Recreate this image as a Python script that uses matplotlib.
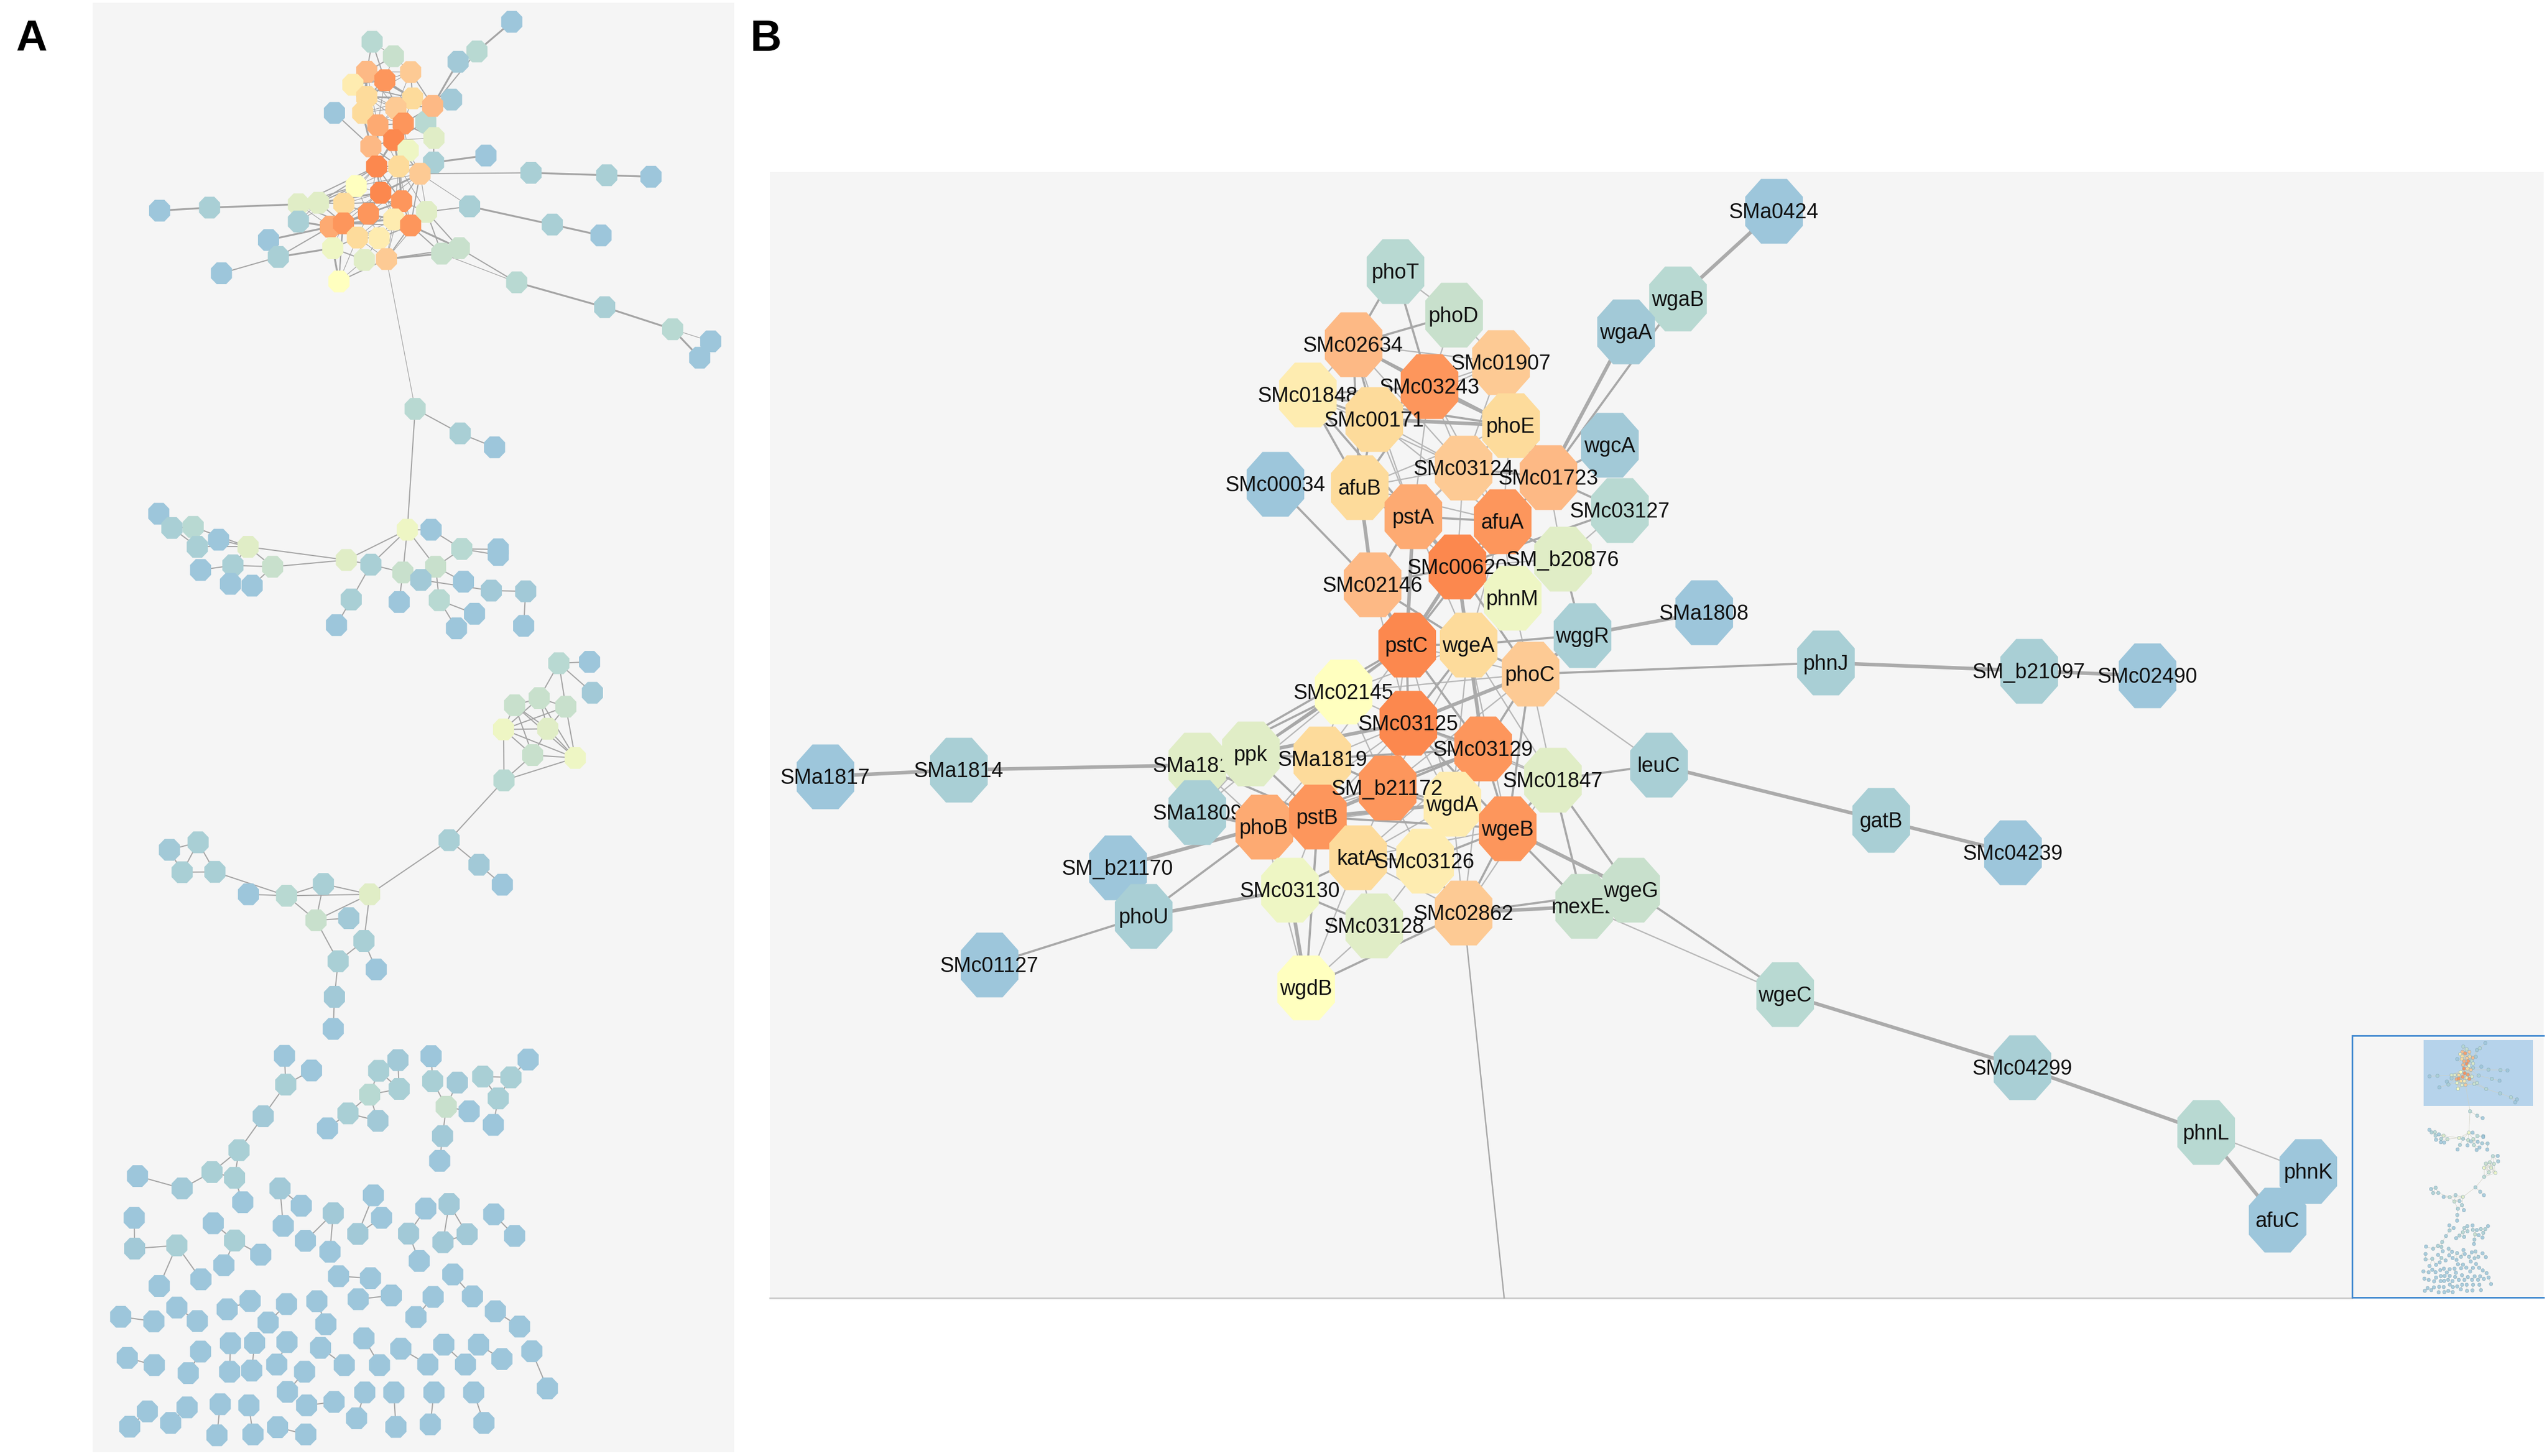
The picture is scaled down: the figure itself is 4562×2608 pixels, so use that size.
import numpy as np
import matplotlib
matplotlib.use("Agg")
import matplotlib.pyplot as plt
from matplotlib.collections import LineCollection
from matplotlib.path import Path
from matplotlib.patches import Rectangle

plt.rcParams['font.family'] = ['Liberation Sans', 'DejaVu Sans']

W, H = 4562, 2608
PREVIEW = W / 1568.0

level_colors = ['#fc884e', '#fd965c', '#fdaa72', '#fdb985', '#fdca94', '#fddb9b', '#feecb0', '#ffffbf',
                '#eef6c4', '#e0edc6', '#c8e0cc', '#b8d9d2', '#a9cfd5', '#a2c9d7', '#9dc6db']

# ---- core network: names, layout in panel B, layout in panel A, colour level
names = ['SMa0424','wgaB','wgaA','phoT','phoD','SMc01907','SMc02634','SMc01848','SMc03243','phoE','SMc00171',
         'wgcA','SMc03127','SMc03124','SMc01723','SMc00034','afuB','pstA','afuA','SMa1808','wggR','SMc02146',
         'SM_b20876','SMc00620','phnM','pstC','wgeA','phoC','phnJ','SM_b21097','SMc02490','SMc02145','SMc03125',
         'SMc03129','leuC','SMa1817','SMa1814','SMa1813','ppk','SMa1809','SMa1819','SMc01847','wgdA','phoB','pstB',
         'SM_b21172','gatB','wgeB','SMc04239','katA','SMc03126','SM_b21170','SMc03130','phoU','mexE2','wgeG',
         'SMc02862','SMc03128','SMc01127','wgdB','wgeC','SMc04299','phnL','phnK','afuC']
b_x = [1092,1033,1001,859,895,924,833,805,880,930,846,991,997,901,953,785,837,870,925,1049,974,845,962,897,931,866,
       904,942,1124,1249,1322,827,867,913,1021,508,590,737,770,737,814,956,894,778,811,854,1158,928,1239,836,877,
       688,794,704,975,1004,901,846,609,804,1099,1245,1358,1421,1402]
b_y = [130,184,204,167,194,223,212,243,238,262,258,274,314,288,294,298,300,318,321,377,391,360,344,349,368,397,397,
       415,408,413,416,426,445,461,471,478,474,471,464,500,467,480,495,509,503,485,505,510,525,528,530,534,548,564,
       558,548,562,570,594,608,612,657,697,721,751]
b_level = [14,11,13,11,10,4,3,6,1,5,5,13,11,4,3,14,5,2,1,14,12,3,9,0,8,0,5,4,12,12,14,7,0,1,12,14,12,9,9,12,5,9,6,2,
           1,1,12,1,14,5,6,14,8,12,10,10,4,9,14,7,11,12,11,14,14]
a_zx = [1018,933,887,677,729,771,664,630,708,776,664,871,808,735,825,585,654,691,753,955,827,674,828,730,765,688,742,
        794,1065,1250,1358,638,698,749,915,158,280,497,546,497,608,810,730,575,607,668,1117,771,1236,641,694,424,581,
        448,847,890,712,658,309,596,1030,1245,1411,1504,1477]
a_zy = [72,170,204,138,186,238,237,280,265,325,320,329,404,357,350,373,373,414,408,514,537,484,456,463,497,550,550,
        574,571,579,584,615,637,665,682,696,686,675,670,732,673,700,725,749,738,706,742,745,778,785,787,793,820,849,
        838,820,856,859,903,930,933,1015,1088,1128,1182]

edges_thin = """phoT-phoD phoD-SMc01907 phoD-SMc03243 SMc02634-SMc01848 SMc02634-SMc01907 SMc02634-SMc03124 SMc02634-pstA
SMc01848-SMc03124 SMc03243-SMc01907 SMc03243-SMc03124 SMc03243-pstA SMc03243-afuA SMc01907-SMc03124 SMc01907-SMc00171
SMc00171-SMc03124 SMc00171-pstA SMc00171-afuA phoE-SMc03124 phoE-afuB phoE-pstA phoE-afuA SMc03124-afuB SMc03124-pstA
SMc03124-afuA SMc03124-SMc00620 SMc01723-SM_b20876 afuB-afuA afuB-SMc00620 pstA-wgeA afuA-wgeA afuA-phnM
SM_b20876-SMc00620 SMc02146-SMc03125 phnM-phoC phoC-leuC pstC-SMc02145 pstC-SM_b21172 pstC-SMa1819 pstC-wgdA pstC-phoC
wgeA-SMc02145 wgeA-SM_b21172 wgeA-wgdA wgeA-SMc01847 wgeA-wgeB phoC-SMc02145 phoC-SMc01847 phoC-SM_b21172
SMc02145-SMc03125 SMc02145-SMa1819 SMc02145-SMa1809 SMc02145-SM_b21172 SMc03125-SMa1819 SMc03125-wgdA SMc03125-pstB
SMc03125-phoB SMc03125-SMc01847 SMc03129-wgdA SMc03129-SMc01847 SMc03129-katA SMc03129-SMc02862 ppk-SMa1813
SMa1813-phoB ppk-SMa1809 SMa1809-SMa1813 SMa1819-phoB SMa1819-katA SM_b21172-katA SM_b21172-phoB SM_b21172-SMc03126
pstB-SMc03130 pstB-SMc03126 phoB-katA phoB-wgdB phoB-wgdA wgdA-katA wgdA-SMc02862 wgeB-katA SMc01847-SMc02862
katA-SMc03128 katA-wgdB SMc03126-SMc03128 pstB-wgdB SMc03128-wgdB mexE2-wgeC katA-SMc02862 phnL-phnK
SMc03127-SM_b20876 wgdA-SMc03126""".split()
edges_mid = """phoT-SMc02634 phoT-SMc03243 phoD-SMc02634 SMc02634-SMc03243 SMc02634-SMc00171 SMc02634-phoE SMc02634-afuB
SMc01848-SMc03243 SMc01848-SMc00171 SMc01848-afuB SMc01848-phoE SMc01848-pstA SMc03243-SMc00171 SMc03243-afuB
SMc01907-phoE SMc01907-SMc01723 SMc00171-afuB phoE-SMc01723 SMc03124-SMc01723 SMc01723-afuA SMc01723-SMc03127
SMc01723-wgcA SMc01723-wgaB wgaA-wgaB SMc00034-SMc02146 afuB-pstA pstA-afuA pstA-SMc02146 afuA-SMc00620 afuA-pstC
afuA-SM_b20876 SMc03127-SMc00620 SM_b20876-wggR SMc00620-SMc02146 SMc00620-phnM SMc00620-phoC SMc02146-wgeA wggR-wgeA
pstC-wgeA pstC-SMc03125 pstC-SMc03129 pstC-ppk pstC-SMa1813 wgeA-SMc03125 wgeA-phoC phoC-SMc03129 phoC-wgeB phoC-phnJ
SMc02145-ppk SMc02145-SMa1813 SMc03125-SMc03129 SMc03125-SM_b21172 SMc03125-wgeB SMc03129-SM_b21172 SMc03129-wgeB
SMc03129-pstB SMc03129-phoB ppk-SMa1819 ppk-pstB SMa1813-pstB SMa1819-SM_b21172 SMa1819-pstB SMa1819-SMc03129
SM_b21172-wgdA SM_b21172-wgeB pstB-katA pstB-phoB pstB-wgeB phoB-SMc03130 wgdA-wgeB wgeB-SMc03126 wgeB-SMc02862
wgeB-mexE2 SMc01847-wgeG SMc01847-mexE2 SMc01847-wgeB katA-SMc03126 katA-SMc03130 SMc03126-SMc02862 SMc03130-SMc03128
SMa1819-wgdB SMc02862-wgdB SMc02862-wgeG wgeG-wgeC leuC-SMc01847 phoU-phoB phoU-SMc01127""".split()
edges_thick = """wgaB-SMa0424 wgaA-SMc01723 SMc03243-phoE SMc00171-phoE afuB-SMc02146 pstA-SMc00620 pstA-pstC SMc00620-pstC
SMc00620-wgeA SMc02146-pstC wggR-phoC wggR-SMa1808 wgeA-SMc03129 phoC-SMc03125 SMc03125-ppk SM_b21172-pstB pstB-wgdA
SMa1809-phoB SMc03130-wgdB wgeB-wgeG SMc02862-mexE2 phnJ-SM_b21097 SM_b21097-SMc02490 leuC-gatB gatB-SMc04239
SMa1817-SMa1814 SMa1814-SMa1813 SM_b21170-phoB phoU-SMc03130 wgeC-SMc04299 SMc04299-phnL phnL-afuC""".split()
exit_name = 'SMc02862'
exit_x, exit_y = 926, 799

z3_x = [782, 892, 976]
z3_y = [1351, 1432, 1478]
z3_level = [11, 12, 14]
z4_x = [156,188,240,250,302,374,434,337,258,331,384,614,763,821,674,752,832,896,985,985,796,900,968,1052,841,927,883,
        1047,626,590,743,1133,1208,1215,1085,1025,1150,998,1106,1069,1173,999,865,938,995,671,558,468,375,540,620,657,
        594,687,585,582,182,252,213,293]
z4_y = [110,150,147,203,183,203,259,255,268,307,312,240,155,155,253,275,259,209,210,226,296,301,326,328,353,391,432,
        425,351,423,358,530,526,613,628,648,652,716,714,788,796,859,1027,1096,1152,1179,1150,1183,1179,1252,1246,1310,
        1367,1390,1467,1557,1054,1033,1117,1116]
z4_level = [14,12,11,12,14,9,10,12,14,14,14,9,8,14,12,10,10,11,14,14,13,14,13,13,11,14,14,14,12,14,14,11,14,13,10,10,
            10,8,9,10,8,11,12,13,14,9,12,11,14,10,13,12,12,14,13,14,13,12,12,12]
z4_edges = [(12,11),(12,13),(12,14),(12,15),(12,16),(11,5),(11,6),(11,14),(14,15),(14,28),(28,29),(15,30),(15,20),
            (16,17),(17,13),(17,18),(17,19),(16,24),(20,22),(22,23),(23,27),(24,25),(24,26),(16,21),(5,4),(5,2),(5,3),
            (5,6),(6,7),(6,10),(7,8),(7,5),(3,1),(1,0),(2,1),(9,7),
            (31,32),(31,33),(31,34),(31,36),(34,35),(34,36),(34,37),(34,38),(35,37),(35,38),(35,39),(36,37),(36,38),
            (36,40),(37,38),(37,39),(37,40),(37,41),(38,39),(38,40),(39,40),(39,41),(40,41),(34,40),(35,40),(41,42),
            (42,43),(43,44),(42,45),(45,46),(45,47),(45,49),(45,51),(46,47),(46,49),(47,48),(47,49),(47,59),(49,50),
            (49,52),(51,52),(51,53),(52,54),(54,55),(56,57),(56,58),(57,58),(57,59),(58,59)]
z5_x = [463,529,466,411,352,286,341,213,104,361,740,693,743,671,618,691,568,821,825,885,858,914,849,842,947,1016,985,
        1058,973,452,504,460,582,514,574,680,700,642,808,766,792,865,850,909,974,1025,96,97,200,157,259,289,341,405,315,
        595,673,643,724,826,784,874,922,978,1037,1067,1105,63,144,200,250,323,379,468,423,542,564,331,329,390,383,469,
        444,258,228,79,145,551,609,657,695,747,813,852,905,937,994,512,470,517,584,659,639,730,735,828,819,925,950,306,
        298,376,386,446,515,128,85,225,185]
z5_y = [177,228,277,387,505,581,601,638,595,686,192,229,292,312,377,403,429,178,265,270,354,370,456,542,249,252,325,
        190,417,638,698,768,724,820,858,662,740,796,708,795,890,692,825,797,728,803,740,847,836,977,954,759,819,868,905,
        943,950,1023,1010,1015,1085,937,1013,1065,1118,1204,1333,1084,1100,1052,1099,1058,1029,1040,1104,1030,1110,
        1176,1275,1175,1271,1172,1250,1205,1280,1227,1252,1192,1252,1159,1252,1195,1250,1181,1250,1181,1231,1275,1345,
        1392,1380,1347,1437,1347,1467,1347,1458,1347,1453,1388,1496,1392,1493,1468,1493,1413,1466,1399,1453]
z5_level = [14,14,12,13,12,12,12,13,14,14, 13,12,12,11,12,13,14, 14,12,13,10,14,13,14, 12,12,12,14,14, 13,14,14, 13,14,14,
            14,14,13, 14,13,14, 13,13,13, 14,14, 14,13,12,14,14, 14,12,14,14] + [14] * 64
z5_edges = [(0,2),(1,2),(2,3),(3,4),(4,5),(4,6),(5,6),(5,7),(7,8),(6,9),(10,12),(11,13),(11,12),(12,13),(13,14),(13,15),
            (14,15),(14,16),(17,18),(18,20),(19,20),(20,21),(20,22),(22,23),(24,25),(24,26),(25,26),(25,27),(26,28),
            (29,30),(29,31),(32,33),(32,34),(35,37),(36,37),(38,39),(39,40),(41,42),(41,43),(42,43),(44,45),(46,47),
            (47,48),(48,49),(48,50),(51,52),(52,53),(52,54)] + [(i, i + 1) for i in range(55, 119, 2)]

# ---- conversion of crop readings into figure pixels
def zone3(x, y):
    return 170 + np.asarray(x) * 1150 / 1568, np.asarray(y) * 850 / 1568
def zone4(x, y):
    return 170 + np.asarray(x) * 1150 / 1568, 850 + np.asarray(y) * 1000 / 1568
def zone5(x, y):
    return 170 + np.asarray(x) * 1150 / 1568, 1800 + np.asarray(y) * 808 / 1568

PANEL_BG = '#f5f5f5'
EDGE = '#a8a8a8'

def octagon(w, h, a=0.45):
    return Path([(-w*a, h), (w*a, h), (w, h*a), (w, -h*a), (w*a, -h), (-w*a, -h), (-w, -h*a), (-w, h*a), (-w*a, h)], closed=True)
MARK_B = octagon(0.89, 1.0)
MARK_A = octagon(0.97, 1.0)

fig = plt.figure(figsize=(W / 100, H / 100), dpi=100, facecolor='white')
ax = fig.add_axes([0, 0, 1, 1])
ax.set_xlim(0, W)
ax.set_ylim(H, 0)
ax.axis('off')

ax.add_patch(Rectangle((166, 5), 1149, 2596, fc=PANEL_BG, ec='none', zorder=0))
ax.add_patch(Rectangle((1379, 308), 3177, 2017, fc=PANEL_BG, ec='none', zorder=0))
ax.plot([1379, 4213], [2325, 2325], color='#c9c9c9', lw=2, zorder=0.5)

ax.text(56, 91, 'A', fontsize=56, fontweight='bold', ha='center', va='baseline', color='black')
ax.text(1372, 91, 'B', fontsize=56, fontweight='bold', ha='center', va='baseline', color='black')

# ---- panel B
bx = np.array(b_x) * PREVIEW
by = np.array(b_y) * PREVIEW
idx = {n: i for i, n in enumerate(names)}

def edge_segments(px, py, specs):
    return [[(px[idx[a]], py[idx[a]]), (px[idx[b]], py[idx[b]])] for a, b in (s.split('-') for s in specs)]

for spec, lw, col in ((edges_thin, 1.7, '#b8b8b8'), (edges_mid, 2.8, EDGE), (edges_thick, 4.6, '#ababab')):
    ax.add_collection(LineCollection(edge_segments(bx, by, spec), colors=col, linewidths=lw, zorder=1))
ax.plot([bx[idx[exit_name]], exit_x * PREVIEW], [by[idx[exit_name]], exit_y * PREVIEW], color=EDGE, lw=1.8, zorder=1)

for i, n in enumerate(names):
    z = 2 + i
    ax.scatter([bx[i]], [by[i]], marker=MARK_B, s=(116 * 0.72) ** 2, c=level_colors[b_level[i]], linewidths=0, zorder=z)
    ax.text(bx[i], by[i] + 3, n, fontsize=27, ha='center', va='center', color='#111111', zorder=z + 0.5)

# ---- panel A
ax3, ay3 = zone3(a_zx, a_zy)
tx, ty = zone3(z3_x, z3_y)
x4, y4 = zone4(z4_x, z4_y)
x5, y5 = zone5(z5_x, z5_y)

a_segments = {0.9: [], 1.5: [], 2.4: []}
for spec, lw in ((edges_thin, 0.9), (edges_mid, 1.5), (edges_thick, 2.4)):
    a_segments[lw] += edge_segments(ax3, ay3, spec)
a_segments[0.9].append([(ax3[idx[exit_name]], ay3[idx[exit_name]]), (tx[0], ty[0])])
a_segments[1.5] += [[(tx[0], ty[0]), (tx[1], ty[1])], [(tx[1], ty[1]), (tx[2], ty[2])], [(tx[0], ty[0]), (x4[12], y4[12])]]
for a, b in z4_edges:
    a_segments[1.5].append([(x4[a], y4[a]), (x4[b], y4[b])])
for a, b in z5_edges:
    a_segments[1.5].append([(x5[a], y5[a]), (x5[b], y5[b])])

for lw, segs in a_segments.items():
    ax.add_collection(LineCollection(segs, colors='#a5a5a5', linewidths=lw, zorder=1))

a_all_x = np.concatenate([ax3, tx, x4, x5])
a_all_y = np.concatenate([ay3, ty, y4, y5])
a_all_l = list(b_level) + z3_level + z4_level + z5_level
ax.scatter(a_all_x, a_all_y, marker=MARK_A, s=(39 * 0.72) ** 2, c=[level_colors[l] for l in a_all_l], linewidths=0, zorder=2)

# ---- overview inset (the same network, reduced)
def to_mini(x, y):
    return 4150 + (605 + (np.asarray(x) - 286) * 0.4757) / 3, 1820 + (145 + (np.asarray(y) - 39) * 0.529) / 3

ax.add_patch(Rectangle((4213, 1855), 343, 469, fc=PANEL_BG, ec='none', zorder=300))
ax.add_patch(Rectangle((4341, 1863), 196, 118, fc='#b6d3eb', ec='none', zorder=301))
mx, my = to_mini(a_all_x, a_all_y)
mini_segs = []
for segs in a_segments.values():
    for (x0, y0), (x1, y1) in segs:
        mini_segs.append([to_mini(x0, y0), to_mini(x1, y1)])
ax.add_collection(LineCollection(mini_segs, colors='#cfcfc0', linewidths=0.5, zorder=302))
ax.scatter(mx, my, marker=MARK_A, s=(6 * 0.72) ** 2, c=[level_colors[l] for l in a_all_l],
           edgecolors='#86a8b4', linewidths=0.5, alpha=0.85, zorder=303)
ax.plot([4556, 4213, 4213, 4556], [1855, 1855, 2324, 2324], color='#3b86cf', lw=2, zorder=304, solid_joinstyle='miter')

fig.savefig('out.png', dpi=100, facecolor='white')
